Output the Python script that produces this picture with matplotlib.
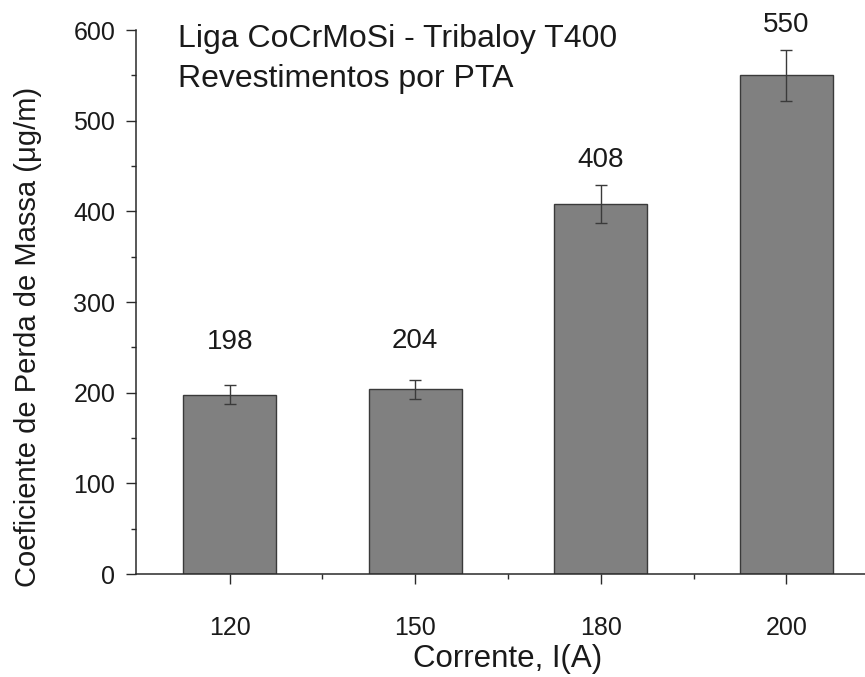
import matplotlib.pyplot as plt
import numpy as np

plt.rcParams['font.family'] = ['Liberation Sans', 'DejaVu Sans']

# wear results for PTA coatings at different currents
correntes = ['120', '150', '180', '200']
perda_massa = [198, 204, 408, 550]
desvio = [10, 10.5, 21, 28]

# extra room above each error bar for the value labels
label_pad = [40, 35, 20, 20]

fig = plt.figure(figsize=(8.65, 6.77), dpi=100)
ax = fig.add_axes([0.1572, 0.1521, 0.87, 0.8035])

x = np.arange(len(correntes))
ax.bar(x, perda_massa, width=0.5, color='#808080', edgecolor='#3a3a3a', linewidth=1.0,
       yerr=desvio, capsize=4,
       error_kw=dict(ecolor='#3a3a3a', elinewidth=1.0, capthick=1.0))

for xi, v, e, p in zip(x, perda_massa, desvio, label_pad):
    ax.text(xi, v + e + p, str(v), ha='center', va='baseline', fontsize=20, color='#1a1a1a')

ax.set_xlim(-0.505, 3.55)
ax.set_ylim(0, 600)
ax.set_xticks(x)
ax.set_xticklabels(correntes)
ax.set_xticks(x[:-1] + 0.5, minor=True)
ax.set_yticks(np.arange(0, 601, 100))
ax.set_yticks(np.arange(50, 600, 100), minor=True)

for side in ['top', 'right']:
    ax.spines[side].set_visible(False)
for side in ['left', 'bottom']:
    ax.spines[side].set_linewidth(1.1)
    ax.spines[side].set_color('#2a2a2a')

ax.tick_params(axis='both', which='major', length=7, width=1.0, color='#2a2a2a',
               labelsize=18, labelcolor='#1a1a1a')
ax.tick_params(axis='both', which='minor', length=3.5, width=1.0, color='#2a2a2a')
ax.tick_params(axis='x', which='major', pad=23)
ax.tick_params(axis='y', which='major', pad=8)

ax.set_xlabel('Corrente, I(A)', fontsize=22.5, color='#1a1a1a')
ax.set_ylabel('Coeficiente de Perda de Massa (\u03bcg/m)', fontsize=21, color='#1a1a1a')
ax.xaxis.set_label_coords(0.4945, -0.128)
ax.yaxis.set_label_coords(-0.125, 0.436)

fig.text(178 / 865, 1 - 47 / 677, 'Liga CoCrMoSi - Tribaloy T400', fontsize=23,
         color='#1a1a1a', va='baseline')
fig.text(178 / 865, 1 - 87 / 677, 'Revestimentos por PTA', fontsize=23,
         color='#1a1a1a', va='baseline')

fig.savefig('out.png', dpi=100)
